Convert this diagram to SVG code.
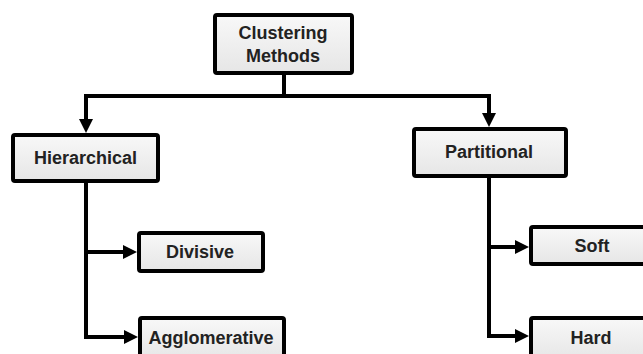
<svg xmlns="http://www.w3.org/2000/svg" width="643" height="354" viewBox="0 0 643 354">
  <defs>
    <linearGradient id="boxfill" x1="0" y1="0" x2="0" y2="1">
      <stop offset="0" stop-color="#f8f8f8"/>
      <stop offset="1" stop-color="#e6e6e6"/>
    </linearGradient>
    <marker id="arrow" markerUnits="userSpaceOnUse" markerWidth="14" markerHeight="14" viewBox="0 0 14 14" refX="0" refY="7" orient="auto">
      <path d="M0,0 L14,7 L0,14 z" fill="#000"/>
    </marker>
  </defs>
  <style>
    .box { fill: url(#boxfill); stroke: #000; stroke-width: 4; }
    .lbl { font-family: "Liberation Sans", Arial, sans-serif; font-weight: bold; font-size: 18px; fill: #222; text-anchor: middle; }
    .conn { fill: none; stroke: #000; stroke-width: 4; }
  </style>
  <rect width="643" height="354" fill="#fff"/>
  <g id="connectors">
    <path class="conn" d="M284,73 V96"/>
    <path class="conn" d="M86,96 H489"/>
    <path class="conn" d="M86,94 V119" marker-end="url(#arrow)"/>
    <path class="conn" d="M489,94 V113" marker-end="url(#arrow)"/>
    <path class="conn" d="M86,181 V337 H124" marker-end="url(#arrow)"/>
    <path class="conn" d="M86,252 H123" marker-end="url(#arrow)"/>
    <path class="conn" d="M489,176 V336 H515" marker-end="url(#arrow)"/>
    <path class="conn" d="M489,247 H515" marker-end="url(#arrow)"/>
  </g>
  <g id="clustering-methods">
    <rect class="box" x="215" y="15" width="137" height="58" rx="2"/>
    <text class="lbl" x="283" y="39">Clustering</text>
    <text class="lbl" x="283" y="62">Methods</text>
  </g>
  <g id="hierarchical">
    <rect class="box" x="13" y="135" width="145" height="46" rx="2"/>
    <text class="lbl" x="85.5" y="164">Hierarchical</text>
  </g>
  <g id="partitional">
    <rect class="box" x="414" y="129" width="152" height="47" rx="2"/>
    <text class="lbl" x="489" y="158">Partitional</text>
  </g>
  <g id="divisive">
    <rect class="box" x="139" y="233" width="124" height="38" rx="2"/>
    <text class="lbl" x="200" y="258">Divisive</text>
  </g>
  <g id="agglomerative">
    <rect class="box" x="140" y="318" width="144" height="42" rx="2"/>
    <text class="lbl" x="211" y="344">Agglomerative</text>
  </g>
  <g id="soft">
    <rect class="box" x="531" y="227" width="125" height="37" rx="2"/>
    <text class="lbl" x="592" y="252">Soft</text>
  </g>
  <g id="hard">
    <rect class="box" x="531" y="318" width="125" height="42" rx="2"/>
    <text class="lbl" x="591" y="344">Hard</text>
  </g>
</svg>
